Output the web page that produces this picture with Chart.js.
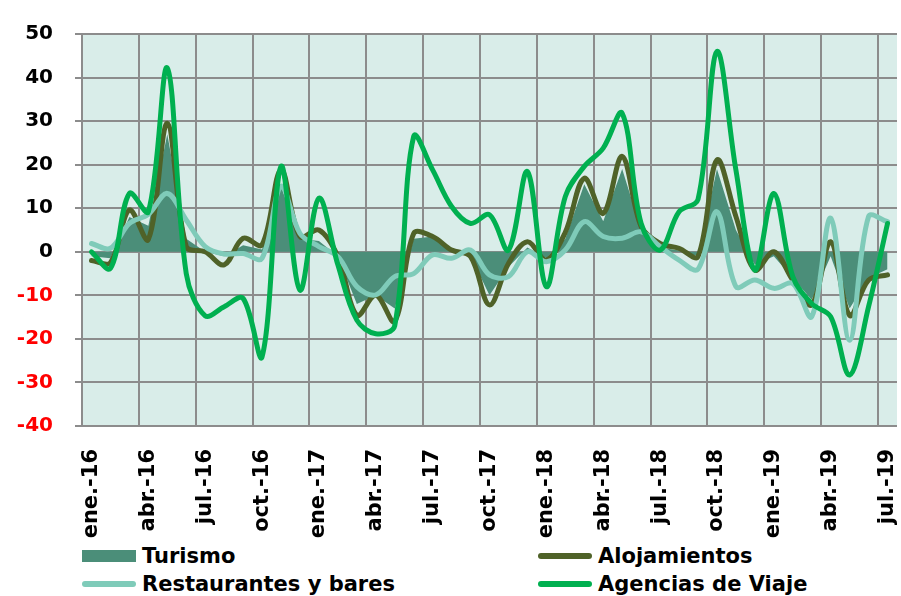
<!DOCTYPE html>
<html>
<head>
<meta charset="utf-8">
<script src="https://cdn.jsdelivr.net/npm/chart.js@4.4.0/dist/chart.umd.min.js"></script>
<style>
  body { margin: 0; background: #fff; font-family: 'DejaVu Sans', Verdana, sans-serif; }
  #wrap { position: relative; width: 901px; height: 596px; }
  #box { position: absolute; left: 0; top: 0; width: 901px; height: 540px; }
  .leg { position: absolute; height: 24px; line-height: 24px; font-size: 21px; font-weight: bold; color: #000; white-space: nowrap; }
  .leg span.sw { position: absolute; left: 0; width: 54px; }
  .leg span.tx { position: absolute; left: 60px; top: 0; }
</style>
</head>
<body>
<div id="wrap">
  <div id="box"><canvas id="myChart"></canvas></div>
  <div id="legend"></div>
</div>
<script>
// ---------------- datos ----------------//
const meses = ['ene.', 'feb.', 'mar.', 'abr.', 'may.', 'jun.', 'jul.', 'ago.', 'sep.', 'oct.', 'nov.', 'dic.'];
const anios = ['16', '17', '18', '19'];

// ene.-16 ... jul.-19 (43 meses)
const categorias = [];
anios.forEach(a => meses.forEach(m => categorias.push(m + '-' + a)));
categorias.length = 43;

const series = ['Turismo', 'Alojamientos', 'Restaurantes y bares', 'Agencias de Viaje'];

const turismo = [-1, -1.5, 8, 6, 27, 3, 0, -1, 1.5, 0.5, 15, 3, 2.5, -1, -12, -10, -13, 3, 3.5, 0, -1, -10,
  -3.5, 1, -1.5, 3, 15.5, 7, 19, 5, 1, 0.3, -1, 19, 5, -3, -1, -6, -11, -1, -13, -6, -4];
const alojamientos = [-2, -2.5, 9.6, 2.8, 29.5, 1.2, 0, -3, 3.1, 1.6, 18.8, 3.5, 5, -1.1, -14.6, -10, -16, 4.2, 3.5, 0.4, -1.1, -12.2,
  -2.7, 2.3, -1.9, 4.5, 16.9, 8.8, 21.9, 5.8, 1.9, 0.8, -1.1, 21.1, 8.1, -4.2, 0, -6.5, -12.2, 2.3, -14.6, -6.5, -5.3];
const restaurantes = [1.9, 0.8, 6.5, 8.6, 13.4, 7.3, 1.2, -0.5, -0.4, -1.5, 15, 4.2, 1.2, -1.1, -8, -9.9, -5.7, -5, -0.7, -1.5, 0.4, -5.3,
  -5.7, 0, -2.3, 0.4, 6.9, 3.5, 3.1, 4.6, 1.2, -1.9, -4, 9.2, -8, -6.5, -8.4, -7.3, -14.9, 7.7, -20.3, 8.1, 6.9];
const agencias = [0, -3.8, 13.4, 9.2, 42.2, -5, -14.7, -12.6, -10.7, -24.1, 19.6, -8.8, 12.3, -3, -15.7, -18.8, -17, 26.5, 18.8, 10.4, 6.5, 8.5,
  0.4, 18.4, -8, 12.7, 19.6, 23.8, 31.8, 6.5, 0.4, 9.2, 12, 46, 18.8, -4.2, 13.4, -5.7, -11.9, -14.9, -28.3, -12.6, 6.5];

const yTicks = [-40, -30, -20, -10, 0, 10, 20, 30, 40, 50];

// colores
const colores = ['#4b8e79', '#4f6228', '#7fcbb9', '#00b050'];
const fondo = '#d9ede9';
const rejilla = '#8c8c8c';

Chart.defaults.font.family = "'DejaVu Sans', Verdana, sans-serif";

// fondo del area de trazado
const fondoPlugin = {
  id: 'fondo',
  beforeDraw(chart) {
    const { ctx, chartArea: a } = chart;
    ctx.save();
    ctx.fillStyle = fondo;
    ctx.fillRect(a.left, a.top, a.right - a.left, a.bottom - a.top);
    ctx.restore();
  }
};

// lineas verticales cada 3 meses (en el borde izquierdo de la categoria)
const rejillaX = {
  id: 'rejillaX',
  beforeDatasetsDraw(chart) {
    const { ctx, chartArea: a, scales: { x } } = chart;
    const paso = x.getPixelForValue(1) - x.getPixelForValue(0);
    ctx.save();
    ctx.strokeStyle = rejilla;
    ctx.lineWidth = 2;
    for (let i = 0; i < categorias.length; i += 3) {
      const px = Math.round(x.getPixelForValue(i) - paso / 2);
      ctx.beginPath();
      ctx.moveTo(px, a.top);
      ctx.lineTo(px, a.bottom);
      ctx.stroke();
    }
    ctx.restore();
  }
};

function linea(i, data) {
  return {
    label: series[i],
    data: data,
    borderColor: colores[i],
    backgroundColor: colores[i],
    borderWidth: 5,
    borderCapStyle: 'round',
    borderJoinStyle: 'round',
    pointRadius: 0,
    fill: false,
    tension: 0.35,
    order: 4 - i
  };
}

const ctx = document.getElementById('myChart');

const chart = new Chart(ctx, {
  type: 'line',
  data: {
    labels: categorias,
    datasets: [
      {
        label: series[0],
        data: turismo,
        backgroundColor: colores[0],
        borderColor: colores[0],
        borderWidth: 0,
        pointRadius: 0,
        fill: 'origin',
        tension: 0,
        order: 5
      },
      linea(1, alojamientos),
      linea(2, restaurantes),
      linea(3, agencias)
    ]
  },
  options: {
    animation: false,
    responsive: true,
    maintainAspectRatio: false,
    layout: { padding: { top: 34, right: 4, left: 0, bottom: 0 } },
    plugins: { legend: { display: false }, tooltip: { enabled: false } },
    scales: {
      x: {
        offset: true,
        grid: { display: false },
        border: { display: false },
        ticks: {
          autoSkip: false,
          minRotation: 90,
          maxRotation: 90,
          padding: 15,
          color: '#000',
          font: { size: 21, weight: 'bold' },
          callback: (v, i) => (i % 3 === 0 ? categorias[i] : '')
        },
        afterFit: s => { s.height = 114; s.paddingLeft = 0; s.paddingRight = 0; }
      },
      y: {
        min: yTicks[0],
        max: yTicks[yTicks.length - 1],
        afterBuildTicks: s => { s.ticks = yTicks.map(v => ({ value: v })); },
        grid: { color: rejilla, lineWidth: 2, tickLength: 7 },
        border: { display: false },
        ticks: {
          padding: 22,
          color: c => (c.tick.value < 0 ? '#ff0000' : '#000'),
          font: { size: 20, weight: 'bold' }
        },
        afterFit: s => { s.width = 82; s.paddingTop = 0; s.paddingBottom = 0; }
      }
    }
  },
  plugins: [fondoPlugin, rejillaX]
});

// leyenda (2 columnas x 2 filas)
const legPos = [[82, 544], [538, 544], [82, 572], [538, 572]];
let html = '';
series.forEach((nombre, s) => {
  const [x, y] = legPos[s];
  const sw = s === 0
    ? `<span class="sw" style="top:6px;height:12px;background:${colores[s]}"></span>`
    : `<span class="sw" style="top:9px;height:6px;border-radius:3px;background:${colores[s]}"></span>`;
  html += `<div class="leg" style="left:${x}px;top:${y}px">${sw}<span class="tx">${nombre}</span></div>`;
});
document.getElementById('legend').innerHTML = html;
</script>
</body>
</html>
